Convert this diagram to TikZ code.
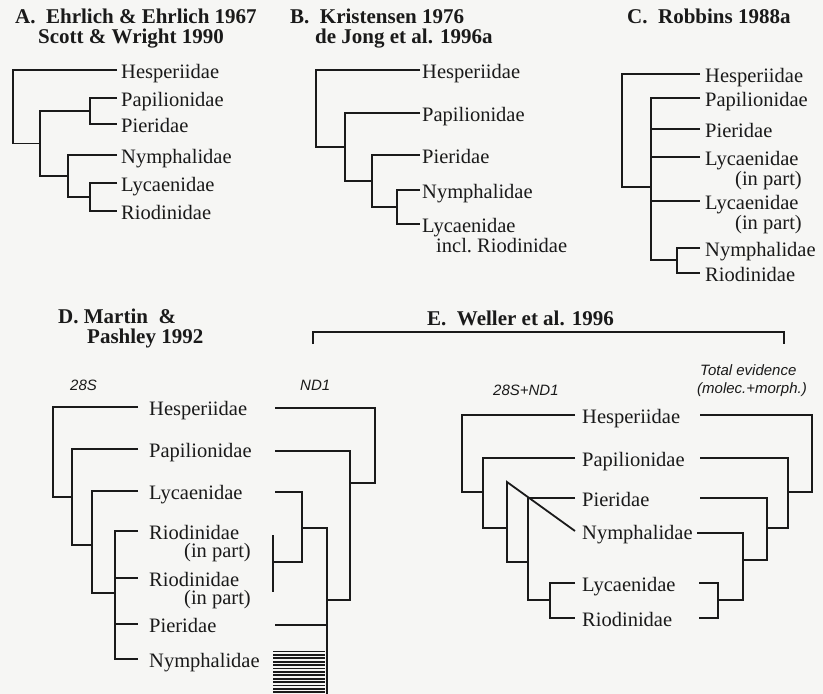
\documentclass[tikz,border=0pt]{standalone}
\usepackage{fontspec}
\setmainfont{Liberation Serif}
\newfontfamily\genefont{Liberation Sans}
\definecolor{ink}{HTML}{1A1A1A}
\definecolor{paper}{HTML}{F6F6F4}

\begin{document}
\begin{tikzpicture}[x=1pt, y=-1pt, every node/.style={text=ink},
      taxon/.style={anchor=west, inner ysep=0pt, inner xsep=#1, text height=16pt, text depth=0pt, font=\fontsize{20.5}{22}\selectfont},
      taxon/.default=3pt,
      twoline/.style={anchor=north west, inner ysep=0pt, inner xsep=#1, align=left, font=\fontsize{20.5}{18.5}\selectfont},
      twoline/.default=3pt,
      heading/.style={anchor=west, inner sep=0pt, font=\bfseries\fontsize{21}{23}\selectfont},
      gene/.style={anchor=west, inner sep=0pt, font=\genefont\itshape\fontsize{15}{17}\selectfont},
      branch/.style={draw=ink, line width=1.8pt},
      hatch/.style={draw=ink, line width=1.8pt}]
    \fill[paper] (0,0) rectangle (823,694);
    \useasboundingbox (0,0) rectangle (823,694);

    % A
    \node[heading] (aT1) at (15,16) {A.\enspace Ehrlich \& Ehrlich 1967};
    \node[heading] (aT2) at (38,39) {Scott \& Wright 1990};
    \node[taxon=4pt] (aH) at (117,70) {Hesperiidae};
    \node[taxon=4pt] (aP) at (117,98) {Papilionidae};
    \node[taxon=4pt] (aPi) at (117,124) {Pieridae};
    \node[taxon=4pt] (aN) at (117,155) {Nymphalidae};
    \node[taxon=4pt] (aL) at (117,183) {Lycaenidae};
    \node[taxon=4pt] (aR) at (117,211) {Riodinidae};
    \coordinate (a1) at (13,107); \coordinate (a2) at (40,143.5); \coordinate (a3) at (68,176);
    \coordinate (a4) at (90,111); \coordinate (a5) at (90,197);
    \draw[branch] (aH.west) -| (a1) |- (a2); \draw[branch] (a4) -| (a2) |- (a3);
    \draw[branch] (aP.west) -| (a4) |- (aPi.west); \draw[branch] (aN.west) -| (a3) |- (a5);
    \draw[branch] (aL.west) -| (a5) |- (aR.west);

    % B
    \node[heading] (bT1) at (290,16) {B.\enspace Kristensen 1976};
    \node[heading] (bT2) at (315,39) {de Jong et al. 1996a};
    \node[taxon=2pt] (bH) at (420,70) {Hesperiidae};
    \node[taxon=2pt] (bP) at (420,113) {Papilionidae};
    \node[taxon=2pt] (bPi) at (420,155) {Pieridae};
    \node[taxon=2pt] (bN) at (420,190) {Nymphalidae};
    \node[twoline=2pt] (bL) at (420,218) {Lycaenidae\\\hspace*{14pt}incl.\ Riodinidae};
    \coordinate (bLa) at ([yshift=-6pt]bL.north west);
    \coordinate (b1) at (316,105); \coordinate (b2) at (345,147);
    \coordinate (b3) at (372,181); \coordinate (b4) at (397,207);
    \draw[branch] (bH.west) -| (b1) |- (b2); \draw[branch] (bP.west) -| (b2) |- (b3);
    \draw[branch] (bPi.west) -| (b3) |- (b4); \draw[branch] (bN.west) -| (b4) |- (bLa);

    % C
    \node[heading] (cT) at (627,16) {C.\enspace Robbins 1988a};
    \node[taxon=5pt] (cH) at (700,74) {Hesperiidae};
    \node[taxon=5pt] (cP) at (700,98) {Papilionidae};
    \node[taxon=5pt] (cPi) at (700,129) {Pieridae};
    \node[twoline=5pt] (cL1) at (700,151) {Lycaenidae\\\hspace*{30pt}(in part)};
    \node[twoline=5pt] (cL2) at (700,195) {Lycaenidae\\\hspace*{30pt}(in part)};
    \node[taxon=5pt] (cN) at (700,248) {Nymphalidae};
    \node[taxon=5pt] (cR) at (700,273) {Riodinidae};
    \coordinate (cL1a) at ([yshift=-6pt]cL1.north west); \coordinate (cL2a) at ([yshift=-6pt]cL2.north west);
    \coordinate (c1) at (622,130); \coordinate (c2) at (651,187); \coordinate (c3) at (677,260);
    \draw[branch] (cH.west) -| (c1) |- (c2); \draw[branch] (cP.west) -| (c2) |- (c3);
    \draw[branch] (c2 |- cPi.west) -- (cPi.west); \draw[branch] (c2 |- cL1a) -- (cL1a);
    \draw[branch] (c2 |- cL2a) -- (cL2a); \draw[branch] (cN.west) -| (c3) |- (cR.west);

    % D
    \node[heading] (dT1) at (58,316) {D.\ Martin\enspace\&};
    \node[heading] (dT2) at (87,338) {Pashley 1992};
    \node[gene] (d28) at (70,385) {28S};
    \node[gene] (dND) at (300,385) {ND1};
    \node[taxon=11pt] (dH) at (138,407) {Hesperiidae};
    \node[taxon=11pt] (dP) at (138,449) {Papilionidae};
    \node[taxon=11pt] (dL) at (138,491) {Lycaenidae};
    \node[twoline=11pt] (dR1) at (138,525) {Riodinidae\\\hspace*{35pt}(in part)};
    \node[twoline=11pt] (dR2) at (138,572) {Riodinidae\\\hspace*{35pt}(in part)};
    \node[taxon=11pt] (dPi) at (138,624) {Pieridae};
    \node[taxon=11pt] (dN) at (138,659) {Nymphalidae};
    \coordinate (dR1a) at ([yshift=-6pt]dR1.north west); \coordinate (dR2a) at ([yshift=-6pt]dR2.north west);
    \coordinate (d1) at (53,450); \coordinate (d2) at (72,497);
    \coordinate (d3) at (92,545); \coordinate (d4) at (115,593);
    \draw[branch] (dH.west) -| (d1) |- (d2); \draw[branch] (dP.west) -| (d2) |- (d3);
    \draw[branch] (dL.west) -| (d3) |- (d4); \draw[branch] (dR1a) -| (d4) |- (dN.west);
    \draw[branch] (d4 |- dR2a) -- (dR2a); \draw[branch] (d4 |- dPi.west) -- (dPi.west);
    \coordinate (dHr) at (275,408); \coordinate (dPr) at (275,451); \coordinate (dLr) at (275,492);
    \coordinate (dR1r) at (273,535); \coordinate (dR2r) at (273,592); \coordinate (dPir) at (275,625);
    \coordinate (dr1) at (375,450); \coordinate (dr2) at (350,483); \coordinate (dr3) at (327,600);
    \coordinate (dr4) at (302,528); \coordinate (dr5) at (273,562); \coordinate (dBot) at (327,694);
    \draw[branch] (dHr) -| (dr1) |- (dr2); \draw[branch] (dPr) -| (dr2) |- (dr3);
    \draw[branch] (dr4) -| (dr3) -- (dBot); \draw[branch] (dLr) -| (dr4) |- (dr5);
    \draw[branch] (dR1r) -- (dR2r); \draw[branch] (dPir) -- (dPir -| dr3);
    \foreach \hy in {651.5,654.9,...,694} \draw[hatch] (273,\hy) -- (325,\hy);

    % E
    \node[heading] (eT) at (427,318) {E.\enspace Weller et al. 1996};
    \coordinate (brL) at (313,344); \coordinate (brLt) at (313,332);
    \coordinate (brRt) at (784,332); \coordinate (brR) at (784,344);
    \draw[branch] (brL) -- (brLt) -- (brRt) -- (brR);
    \node[gene] (e28) at (493,390) {28S+ND1};
    \node[gene] (eTot) at (700,370) {Total evidence};
    \node[gene] (eMol) at (697,390) {(molec.+morph.)};
    \node[taxon=7pt] (eH) at (575,415) {Hesperiidae};
    \node[taxon=7pt] (eP) at (575,458) {Papilionidae};
    \node[taxon=7pt] (ePi) at (575,498) {Pieridae};
    \node[taxon=7pt] (eN) at (575,531) {Nymphalidae};
    \node[taxon=7pt] (eL) at (575,583) {Lycaenidae};
    \node[taxon=7pt] (eR) at (575,618) {Riodinidae};
    \coordinate (e1) at (462,450); \coordinate (e2) at (483,492); \coordinate (e3t) at (507,482);
    \coordinate (e4) at (528,562); \coordinate (e5) at (550,600);
    \draw[branch] (eH.west) -| (e1) |- (e2); \draw[branch] (eP.west) -| (e2) |- (e3t |- 0,528);
    \draw[branch] (eN.west) -- (e3t) |- (e4); \draw[branch] (ePi.west) -| (e4) |- (e5);
    \draw[branch] (eL.west) -| (e5) |- (eR.west);
    \coordinate (eHr) at (700,415); \coordinate (ePr) at (700,458); \coordinate (ePir) at (700,498);
    \coordinate (eNr) at (697,533); \coordinate (eLr) at (699,583); \coordinate (eRr) at (699,618);
    \coordinate (er1) at (812,450); \coordinate (er2) at (788,492); \coordinate (er3) at (767,528);
    \coordinate (er4) at (743,560); \coordinate (er5) at (718,600);
    \draw[branch] (eHr) -| (er1) |- (er2); \draw[branch] (ePr) -| (er2) |- (er3);
    \draw[branch] (ePir) -| (er3) |- (er4); \draw[branch] (eNr) -| (er4) |- (er5);
    \draw[branch] (eLr) -| (er5) |- (eRr);
  \end{tikzpicture}
\end{document}
